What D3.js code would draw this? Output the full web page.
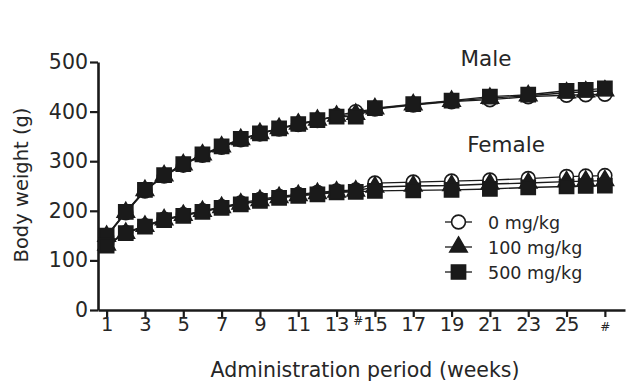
<!DOCTYPE html>
<html>
<head>
<meta charset="utf-8">
<script src="https://cdn.jsdelivr.net/npm/d3@7/dist/d3.min.js"></script>
<style>
  html, body { margin: 0; padding: 0; background: #fff; }
  svg { display: block; font-family: "DejaVu Sans", sans-serif; }
</style>
</head>
<body>
<svg id="chart" width="627" height="381"></svg>
<script>
// ---- data ----
const weeks = [1,2,3,4,5,6,7,8,9,10,11,12,13,14,15,17,19,21,23,25,26,27];
const male0   = [148,196,240,270,292,312,328,343,355,365,374,382,392,400,405,413,420,424,430,433,434,435];
const male100 = [149,197,241,271,293,313,329,344,356,366,375,383,391,395,406,414,421,427,432,438,440,442];
const male500 = [150,198,242,272,294,314,330,345,356,366,375,383,390,390,407,415,422,430,434,442,444,447];
const female0   = [132,156,170,183,192,200,208,216,223,229,233,237,240,242,256,258,260,262,265,269,270,271];
const female100 = [131,155,169,182,191,199,207,214,221,227,231,235,238,240,248,250,251,254,256,259,260,261];
const female500 = [130,155,168,181,190,198,206,213,220,226,230,233,237,238,240,241,242,244,247,249,250,251];
const xTicks = [1,3,5,7,9,11,13,14,15,17,19,21,23,25,27];
const xTickLabels = ["1","3","5","7","9","11","13","#","15","17","19","21","23","25","#"];
const yTicks = [0,100,200,300,400,500];
const legendLabels = ["0 mg/kg","100 mg/kg","500 mg/kg"];
const groupLabels = ["Male","Female"];

// ---- chart ----
const svg = d3.select("#chart");
const ink = "#1a1a1a";
const txt = "#262626";
const x = d3.scaleLinear().domain([0.55, 28.05]).range([98, 625]);
const y = d3.scaleLinear().domain([0, 500]).range([310, 62]);

// axes
const yAxis = svg.append("g").attr("transform", "translate(98,0)")
  .call(d3.axisLeft(y).tickValues(yTicks).tickSize(8).tickPadding(2).tickSizeOuter(0));
const xAxis = svg.append("g").attr("transform", "translate(0,310)")
  .call(d3.axisBottom(x).tickValues(xTicks).tickSize(7).tickPadding(0).tickSizeOuter(0)
    .tickFormat((d, i) => xTickLabels[i]));
[yAxis, xAxis].forEach(g => {
  g.select(".domain").attr("stroke", ink).attr("stroke-width", 2.6);
  g.selectAll(".tick line").attr("stroke", ink).attr("stroke-width", 2.2);
  g.selectAll(".tick text").attr("fill", txt)
    .style("font-family", "'DejaVu Sans', sans-serif");
});
yAxis.selectAll(".tick text").style("font-size", "20.5px");
xAxis.selectAll(".tick text").style("font-size", "19.5px");
xAxis.selectAll(".tick text").filter((d, i) => xTickLabels[i] === "#")
  .style("font-size", "12px")
  .attr("dy", (d) => d === 14 ? "0.7em" : "1.15em")
  .attr("dx", (d) => d === 14 ? "2" : "0");

// axis titles
svg.append("text").attr("transform", "translate(28,185) rotate(-90)")
  .attr("text-anchor", "middle").attr("fill", txt).style("font-size", "19.5px")
  .text("Body weight (g)");
svg.append("text").attr("x", 365).attr("y", 377).attr("text-anchor", "middle")
  .attr("fill", txt).style("font-size", "20.5px").text("Administration period (weeks)");

// group labels
svg.append("text").attr("x", 486).attr("y", 66).attr("text-anchor", "middle")
  .attr("fill", txt).style("font-size", "21.5px").text(groupLabels[0]);
svg.append("text").attr("x", 506).attr("y", 152).attr("text-anchor", "middle")
  .attr("fill", txt).style("font-size", "21.5px").text(groupLabels[1]);

// series
const series = [
  { vals: male0, sym: "circle" }, { vals: female0, sym: "circle" },
  { vals: male100, sym: "triangle" }, { vals: female100, sym: "triangle" },
  { vals: male500, sym: "square" }, { vals: female500, sym: "square" }
];
const line = d3.line().x(d => x(d[0])).y(d => y(d[1]));
series.forEach(s => {
  svg.append("path").datum(weeks.map((w, i) => [w, s.vals[i]]))
    .attr("d", line).attr("fill", "none").attr("stroke", ink).attr("stroke-width", 1.3);
});
const symSize = { circle: 150, triangle: 130, square: 200 };
const symType = { circle: d3.symbolCircle, triangle: d3.symbolTriangle, square: d3.symbolSquare };
function drawSym(g, type, cx, cy) {
  g.append("path")
    .attr("d", d3.symbol().type(symType[type]).size(symSize[type])())
    .attr("transform", `translate(${cx},${cy})`)
    .attr("fill", type === "circle" ? "#fff" : ink)
    .attr("stroke", ink).attr("stroke-width", 1.6);
}
const marks = svg.append("g");
series.forEach(s => {
  weeks.forEach((w, i) => drawSym(marks, s.sym, x(w), y(s.vals[i])));
});

// legend
const legend = svg.append("g");
["circle", "triangle", "square"].forEach((t, i) => {
  const cy = 222 + i * 25;
  legend.append("line").attr("x1", 445).attr("x2", 472).attr("y1", cy).attr("y2", cy)
    .attr("stroke", ink).attr("stroke-width", 1.3);
  drawSym(legend, t, 458.5, cy);
  legend.append("text").attr("x", 488).attr("y", cy + 6.5).attr("fill", txt)
    .style("font-size", "17.5px").text(legendLabels[i]);
});
</script>
</body>
</html>
